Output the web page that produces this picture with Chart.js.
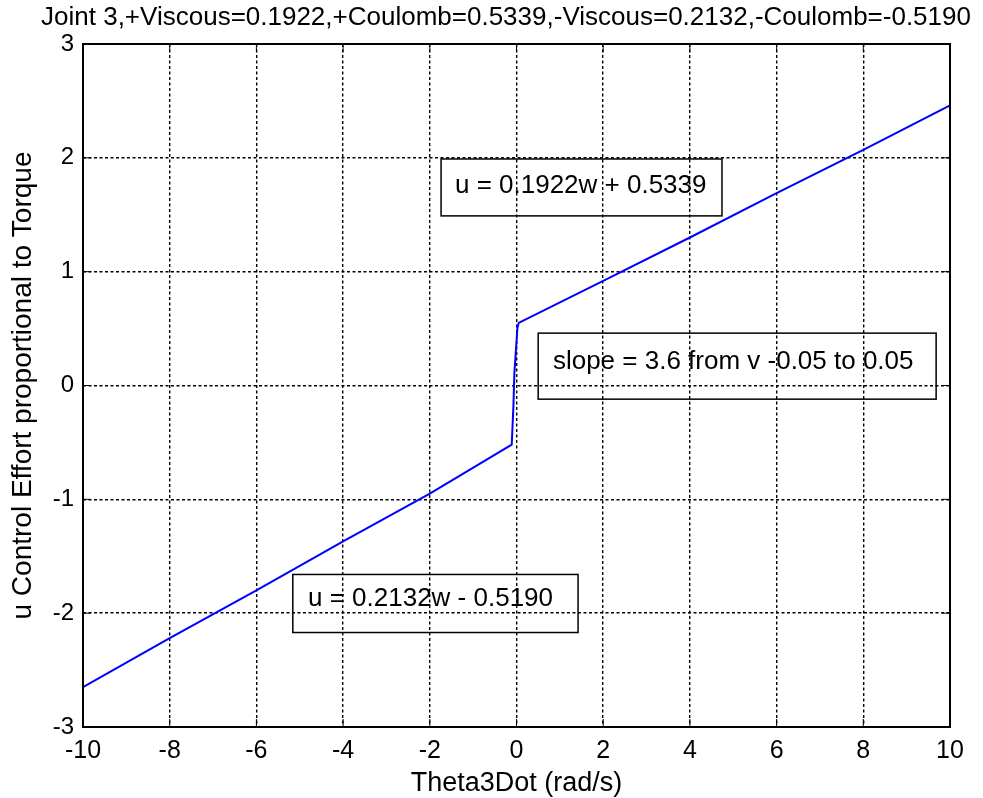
<!DOCTYPE html>
<html>
<head>
<meta charset="utf-8">
<script src="https://cdn.jsdelivr.net/npm/chart.js@4/dist/chart.umd.min.js"></script>
<style>
html, body { margin: 0; padding: 0; background: #fff; }
</style>
</head>
<body>
<canvas id="myChart" width="983" height="798"></canvas>
<script>
// values (theta dot in rad/s, control effort u)
const thetaDot = [-10, -8, -6, -4, -2, -0.11, -0.07, -0.05, 0.02, 0.05, 2, 4, 6, 8, 10];
const effort = [-2.65, -2.22, -1.80, -1.37, -0.95, -0.52, -0.17, 0.10, 0.50, 0.55, 0.92, 1.30, 1.69, 2.07, 2.46];

const xTicks = [-10, -8, -6, -4, -2, 0, 2, 4, 6, 8, 10];
const yTicks = [-3, -2, -1, 0, 1, 2, 3];

const titleText = 'Joint 3,+Viscous=0.1922,+Coulomb=0.5339,-Viscous=0.2132,-Coulomb=-0.5190';
const boxTexts = ['u = 0.1922w + 0.5339', 'slope = 3.6 from v -0.05 to 0.05', 'u = 0.2132w - 0.5190'];

const FONT = '"Liberation Sans", Arial, Helvetica, sans-serif';
Chart.defaults.font.family = FONT;
Chart.defaults.color = '#000';

const points = thetaDot.map((w, i) => ({x: w, y: effort[i]}));

// text boxes, corners in data units
const boxes = [
    {text: boxTexts[0], x0: -1.74, x1: 4.74, y0: 1.99, y1: 1.49, tx: -1.42, ty: 1.75},
    {text: boxTexts[1], x0: 0.50, x1: 9.68, y0: 0.46, y1: -0.12, tx: 0.84, ty: 0.205},
    {text: boxTexts[2], x0: -5.16, x1: 1.42, y0: -1.66, y1: -2.17, tx: -4.81, ty: -1.875}
];

const framePlugin = {
    id: 'frame',
    afterDraw(chart) {
        const {ctx, chartArea: a, scales} = chart;
        ctx.save();
        // inward tick marks
        ctx.strokeStyle = '#000';
        ctx.lineWidth = 1;
        ctx.beginPath();
        xTicks.forEach(v => {
            const px = scales.x.getPixelForValue(v);
            ctx.moveTo(px, a.bottom); ctx.lineTo(px, a.bottom - 8);
            ctx.moveTo(px, a.top); ctx.lineTo(px, a.top + 8);
        });
        yTicks.forEach(v => {
            const py = scales.y.getPixelForValue(v);
            ctx.moveTo(a.left, py); ctx.lineTo(a.left + 8, py);
            ctx.moveTo(a.right, py); ctx.lineTo(a.right - 8, py);
        });
        ctx.stroke();
        // axes box
        ctx.lineWidth = 2;
        ctx.strokeRect(a.left, a.top, a.right - a.left, a.bottom - a.top);

        // title
        ctx.fillStyle = '#000';
        ctx.font = '26px ' + FONT;
        ctx.textAlign = 'center';
        ctx.textBaseline = 'middle';
        ctx.fillText(titleText, 506, 18);

        // annotation boxes
        ctx.font = '26px ' + FONT;
        ctx.textAlign = 'left';
        boxes.forEach(b => {
            const l = scales.x.getPixelForValue(b.x0);
            const r = scales.x.getPixelForValue(b.x1);
            const t = scales.y.getPixelForValue(b.y0);
            const btm = scales.y.getPixelForValue(b.y1);
            ctx.lineWidth = 1.5;
            ctx.strokeRect(l, t, r - l, btm - t);
            ctx.fillText(b.text, scales.x.getPixelForValue(b.tx), scales.y.getPixelForValue(b.ty));
        });
        ctx.restore();
    }
};

const myChart = new Chart(document.getElementById('myChart').getContext('2d'), {
    type: 'line',
    data: {
        datasets: [{
            data: points,
            borderColor: '#0000ff',
            borderWidth: 2,
            pointRadius: 0,
            fill: false,
            tension: 0
        }]
    },
    options: {
        responsive: false,
        animation: false,
        layout: {padding: {right: 33, left: 0, top: 44, bottom: 0}},
        plugins: {
            legend: {display: false},
            tooltip: {enabled: false},
            title: {display: false}
        },
        scales: {
            x: {
                type: 'linear',
                min: -10, max: 10,
                afterBuildTicks: s => { s.ticks = xTicks.map(v => ({value: v})); },
                afterFit: s => { s.height = 71; },
                ticks: {font: {size: 25}, color: '#000', padding: 9, maxRotation: 0},
                grid: {color: '#000', lineWidth: 1.4, drawTicks: false},
                border: {display: false, dash: [3, 2.5]},
                title: {display: true, text: 'Theta3Dot (rad/s)', font: {size: 27}, color: '#000', padding: {bottom: -2}}
            },
            y: {
                type: 'linear',
                min: -3, max: 3,
                afterBuildTicks: s => { s.ticks = yTicks.map(v => ({value: v})); },
                afterFit: s => { s.width = 83; },
                ticks: {font: {size: 24}, color: '#000', padding: 9},
                grid: {color: '#000', lineWidth: 1.4, drawTicks: false},
                border: {display: false, dash: [3, 2.5]},
                title: {display: true, text: 'u Control Effort proportional to Torque', font: {size: 28}, color: '#000', padding: {top: 6}}
            }
        }
    },
    plugins: [framePlugin]
});
</script>
</body>
</html>
